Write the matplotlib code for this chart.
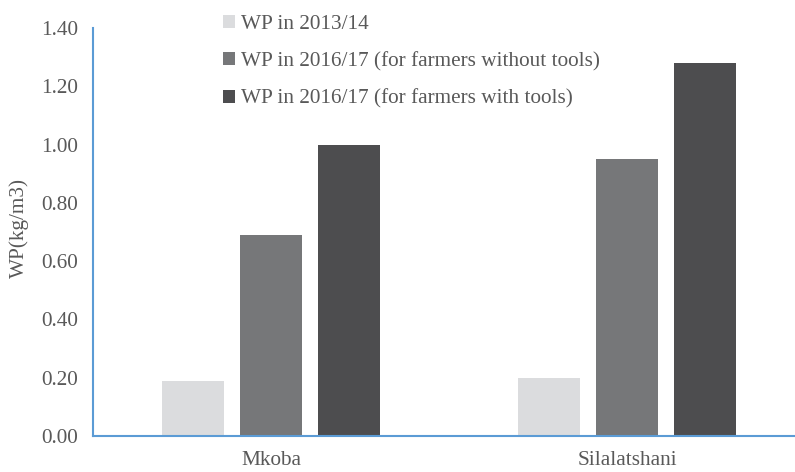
import matplotlib.pyplot as plt
import numpy as np

plt.rcParams['font.family'] = ['Liberation Serif', 'DejaVu Serif']

sites = ['Mkoba', 'Silalatshani']
series = ['WP in 2013/14',
          'WP in 2016/17 (for farmers without tools)',
          'WP in 2016/17 (for farmers with tools)']
wp_2013 = [0.19, 0.20]
wp_no_tools = [0.69, 0.95]
wp_tools = [1.00, 1.28]
colors = ['#DBDCDE', '#767779', '#4D4D4F']

W, H = 795, 472
fig = plt.figure(figsize=(W / 100, H / 100), dpi=100)
# plot area in pixels: left 93, right ~805 (runs off the edge), top 28, bottom 436
ax = fig.add_axes([93 / W, 1 - 436 / H, 712 / W, 408 / H])

x = np.arange(len(sites))
w = 0.174
step = 0.22
for i, vals in enumerate([wp_2013, wp_no_tools, wp_tools]):
    ax.bar(x + (i - 1) * step, vals, w, color=colors[i], label=series[i], zorder=2)

fs = 15.3
ax.set_xlim(-0.5, 1.5)
ax.set_ylim(0, 1.4)
ax.set_yticks(np.arange(0, 1.41, 0.2))
ax.set_yticklabels([f'{v:.2f}' for v in np.arange(0, 1.41, 0.2)])
ax.set_xticks(x)
ax.set_xticklabels(sites)
ax.tick_params(length=0, labelsize=fs, labelcolor='#595959')
ax.tick_params(axis='y', pad=11)
ax.tick_params(axis='x', pad=11)
for s in ['top', 'right']:
    ax.spines[s].set_visible(False)
for s in ['left', 'bottom']:
    ax.spines[s].set_color('#5B9BD5')
    ax.spines[s].set_linewidth(1.5)

ax.set_ylabel('WP(kg/m3)', fontsize=fs, color='#595959')
ax.yaxis.set_label_coords(-0.09, 0.51)

fig.legend(loc='upper left', bbox_to_anchor=(204 / W, 1 + 4 / H), frameon=False,
           fontsize=fs, labelcolor='#595959', handlelength=0.55, handleheight=0.55,
           handletextpad=0.3, labelspacing=0.84)

fig.savefig('out.png', dpi=100)
